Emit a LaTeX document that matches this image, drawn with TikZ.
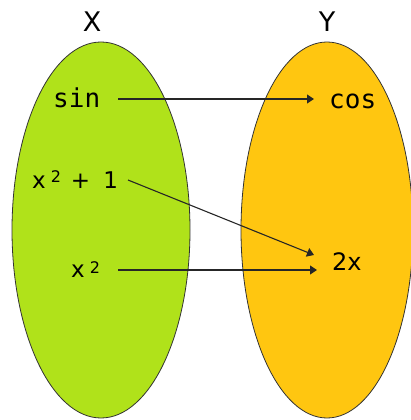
\documentclass[tikz,border=0pt]{standalone}
\usepackage{fontspec}
\setmainfont{DejaVu Sans}
\setmonofont{DejaVu Sans Mono}
\usetikzlibrary{arrows.meta}
\definecolor{lgreen}{RGB}{176,226,26}
\definecolor{lorange}{RGB}{255,198,16}
\begin{document}
\begin{tikzpicture}[x=1pt,y=-1pt,
  setshape/.style={draw=black!80,line width=0.8pt},
  lab/.style={inner sep=0pt,font=\fontsize{23}{23}\selectfont},
  mono/.style={inner sep=0pt,font=\ttfamily\fontsize{26}{26}\selectfont},
  arr/.style={-{Triangle[length=7pt,width=9pt]},line width=1.1pt,draw=black!85}]
\useasboundingbox (0,0) rectangle (410,420);
\fill[lgreen,setshape] (101,230) ellipse [x radius=89,y radius=188];
\fill[lorange,setshape] (327,230) ellipse [x radius=86,y radius=188];
\node[lab,font=\fontsize{27}{27}\selectfont] (X) at (92,22) {X};
\node[lab,font=\fontsize{27}{27}\selectfont] (Y) at (327,22) {Y};
\node[mono,anchor=base west] (sin) at (53,107) {sin};
\node[mono,anchor=base west] (cos) at (329,108) {cos};
\node[lab,anchor=base west] (xp1) at (32,188) {x\hspace{5pt}\raisebox{0.45ex}{\fontsize{16}{16}\selectfont 2}\hspace{10pt}+\hspace{13pt}1};
\node[lab,anchor=base west] (xs) at (71,277) {x\hspace{5pt}\raisebox{0.3ex}{\fontsize{16}{16}\selectfont 2}};
\node[lab,font=\fontsize{24}{24}\selectfont,anchor=base west] (tx) at (332,270) {2x};
\coordinate (a1) at (118,99);
\coordinate (b1) at (314,99);
\coordinate (a2) at (128,180);
\coordinate (b2) at (314,255);
\coordinate (a3) at (118,270);
\coordinate (b3) at (317,270);
\draw[arr] (a1) -- (b1);
\draw[arr] (a2) -- (b2);
\draw[arr] (a3) -- (b3);
\end{tikzpicture}
\end{document}
